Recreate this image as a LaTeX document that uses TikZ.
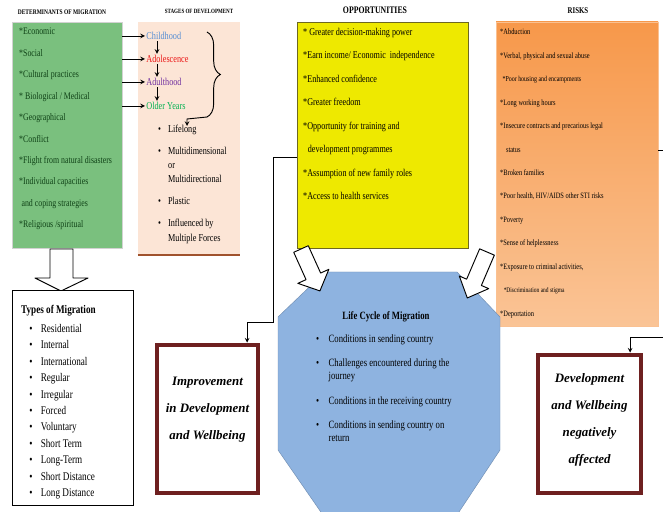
\documentclass[tikz,border=0pt]{standalone}
\usepackage{fontspec}
\setmainfont{Liberation Serif}[FakeStretch=0.78]
\newfontfamily\widefont{Liberation Serif}
\usetikzlibrary{calc,decorations.pathreplacing}

\definecolor{detgreen}{RGB}{122,192,126}
\definecolor{dettext}{RGB}{15,65,22}
\definecolor{devpeach}{RGB}{252,229,214}
\definecolor{devbrown}{RGB}{160,82,45}
\definecolor{oppyellow}{RGB}{238,233,0}
\definecolor{riskorange}{RGB}{247,152,74}
\definecolor{risklight}{RGB}{250,196,150}
\definecolor{lifeblue}{RGB}{142,179,224}
\definecolor{outmaroon}{RGB}{110,32,32}
\definecolor{childblue}{RGB}{84,141,212}
\definecolor{adolred}{RGB}{235,20,20}
\definecolor{adultpurple}{RGB}{112,48,160}
\definecolor{oldgreen}{RGB}{0,176,80}

\begin{document}
\begin{tikzpicture}[x=0.03cm, y=-0.03cm, >=stealth,
    panel/.style={draw=gray!35, inner sep=0pt},
    header/.style={inner sep=0pt, font=\fontsize{#1}{#1}\selectfont\bfseries},
    listtext/.style={anchor=north west, inner sep=0pt, align=left},
    stage/.style={anchor=west, inner sep=1pt, font=\fontsize{9}{10}\selectfont},
    outbox/.style={draw=outmaroon, line width=4pt, fill=white},
    outtext/.style={align=center, font=\widefont\fontsize{11}{23}\selectfont\bfseries\itshape},
    conn/.style={->, thick},
    hollow/.style={draw, fill=white, thick, line join=round}]

    \path[use as bounding box, fill=white] (0,0) rectangle (663,512);
    \clip (0,0) rectangle (663,512);

    % determinants
    \node[header=6] (dethead) at (62,12) {DETERMINANTS OF MIGRATION};
    \node[panel, fill=detgreen, minimum width=3.3cm, minimum height=6.78cm] (det) at (67,135) {};
    \node[listtext, text=dettext, font=\fontsize{8.6}{18.3}\selectfont] (detlist) at (19,28) {*Economic\\
        *Social\\
        *Cultural practices\\
        * Biological / Medical\\
        *Geographical\\
        *Conflict\\
        *Flight from natural disasters\\
        *Individual capacities\\
        \hspace{2pt}and coping strategies\\
        *Religious /spiritual};

    % stages of development
    \node[header=5.5] (devhead) at (199,11) {STAGES OF DEVELOPMENT};
    \node[panel, draw=none, fill=devpeach, minimum width=3.06cm, minimum height=6.99cm] (dev) at (189,138.5) {};
    \draw[devbrown, line width=1.5pt] (dev.south west) -- (dev.south east);

    \node[stage, text=childblue] (child) at (145,36) {Childhood};
    \node[stage, text=adolred] (adol) at (145,59) {Adolescence};
    \node[stage, text=adultpurple] (adult) at (145,82) {Adulthood};
    \node[stage, text=oldgreen] (old) at (145,106) {Older Years};

    \draw[conn] ($(child.south west)+(12,0)$) -- ($(adol.north west)+(12,0)$);
    \draw[conn] ($(adol.south west)+(12,0)$) -- ($(adult.north west)+(12,0)$);
    \draw[conn] ($(adult.south west)+(12,0)$) -- ($(old.north west)+(12,0)$);

    \draw[conn] (det.east |- child.west) -- (child.west);
    \draw[conn] (det.east |- adol.west) -- (adol.west);
    \draw[conn] (det.east |- adult.west) -- (adult.west);
    \draw[conn] (det.east |- old.west) -- (old.west);

    \draw[thick, decorate, decoration={brace, amplitude=0.4cm}] (207,32) -- (207,117);
    \coordinate (braceend) at (207,117);
    \draw[conn] (braceend) -- ++(-20,2) -- ++(0,7);

    \node[listtext, font=\fontsize{9}{12}\selectfont] (devlist) at (158,122) {%
        \begin{tabular}{@{}c@{\hskip 6pt}l@{}}
        \textbullet & Lifelong\\[7pt]
        \textbullet & Multidimensional\\
                    & or\\
                    & Multidirectional\\[7pt]
        \textbullet & Plastic\\[7pt]
        \textbullet & Influenced by\\
                    & Multiple Forces
        \end{tabular}};

    % opportunities
    \node[header=8.5] (opphead) at (375,10) {OPPORTUNITIES};
    \node[panel, draw=olive!70!black, fill=oppyellow, minimum width=5.13cm, minimum height=6.78cm] (opp) at (382.5,135) {};
    \node[listtext, font=\fontsize{8.9}{20}\selectfont] (opplist) at (303,28) {* Greater decision-making power\\
        *Earn income/ Economic\ \ independence\\
        *Enhanced confidence\\
        *Greater freedom\\
        *Opportunity for training and\\
        \hspace{4pt}development programmes\\
        *Assumption of new family roles\\
        *Access to health services};

    % risks
    \node[header=7.5] (riskhead) at (578,11) {RISKS};
    \node[panel, draw=riskorange!60, top color=riskorange, bottom color=risklight, minimum width=4.86cm, minimum height=9.12cm] (risk) at (577,174) {};
    \node[listtext, font=\fontsize{7}{20}\selectfont] (risklist) at (500,29) {*Abduction\\
        *Verbal, physical and sexual abuse\\
        \hspace{2pt}{\fontsize{6.5}{7}\selectfont *Poor housing and encampments}\\
        *Long working hours\\
        *Insecure contracts and precarious legal\\
        \hspace{5pt}status\\
        *Broken families\\
        *Poor health, HIV/AIDS other STI risks\\
        *Poverty\\
        *Sense of helplessness\\
        *Exposure to criminal activities,\\
        \hspace{3pt}{\fontsize{6}{7}\selectfont *Discrimination and stigma}\\
        *Deportation};

    % types of migration
    \draw[hollow] (50,249) -- (73,249) -- (73,278) -- (88,278) -- (61,291) -- (35,278) -- (50,278) -- cycle;
    \node[draw, thick, fill=white, minimum width=3.63cm, minimum height=6.45cm] (types) at (72.5,398) {};
    \node[listtext, font=\fontsize{10}{14}\selectfont] (typelist) at (21,302) {%
        \begin{tabular}{@{\hskip 7pt}c@{\hskip 7pt}l@{}}
        \multicolumn{2}{@{}l@{}}{\bfseries\fontsize{10}{14}\selectfont Types of Migration}\\[2pt]
        \textbullet & Residential\\
        \textbullet & Internal\\
        \textbullet & International\\
        \textbullet & Regular\\
        \textbullet & Irregular\\
        \textbullet & Forced\\
        \textbullet & Voluntary\\
        \textbullet & Short Term\\
        \textbullet & Long-Term\\
        \textbullet & Short Distance\\
        \textbullet & Long Distance
        \end{tabular}};

    % life cycle
    \filldraw[fill=lifeblue, draw=lifeblue!80!black] (325,272) -- (457,272) -- (500,317) -- (500,450) -- (455,518)
        -- (325,518) -- (278,450) -- (278,317) -- cycle;
    \node[font=\fontsize{9.5}{11}\selectfont\bfseries] (life) at (386,317) {Life Cycle of Migration};
    \node[listtext, font=\fontsize{9.5}{11}\selectfont] (lifelist) at (316,333) {%
        \begin{tabular}{@{}c@{\hskip 8pt}l@{}}
        \textbullet & Conditions in sending country\\[10pt]
        \textbullet & Challenges encountered during the\\
                    & journey\\[10pt]
        \textbullet & Conditions in the receiving country\\[10pt]
        \textbullet & Conditions in sending country on\\
                    & return
        \end{tabular}};

    \begin{scope}[shift={(301,249)}, rotate=-65.7]
        \draw[hollow] (0,-8) -- (30,-8) -- (30,-17) -- (46,0) -- (30,17) -- (30,8) -- (0,8) -- cycle;
    \end{scope}
    \begin{scope}[shift={(487,252)}, rotate=-113.2]
        \draw[hollow] (0,-8) -- (33,-8) -- (33,-16) -- (50,0) -- (33,16) -- (33,8) -- (0,8) -- cycle;
    \end{scope}

    % outcomes
    \node[outbox, minimum width=3.03cm, minimum height=4.44cm] (impr) at (207.5,419) {};
    \node[outtext] (imprtext) at (207.5,410) {Improvement\\in Development\\and Wellbeing};
    \node[outbox, minimum width=3.09cm, minimum height=4.14cm] (devneg) at (589.5,424) {};
    \node[outtext] (devnegtext) at (589.5,420) {Development\\and Wellbeing\\negatively\\affected};

    \draw[conn] ([yshift=-0.66cm]opp.west) -| (273,322) -| ([xshift=1.19cm]impr.north);
    \draw[conn] ([yshift=0.72cm]risk.east) -| (668,337) -| ([xshift=1.22cm]devneg.north);
\end{tikzpicture}
\end{document}
